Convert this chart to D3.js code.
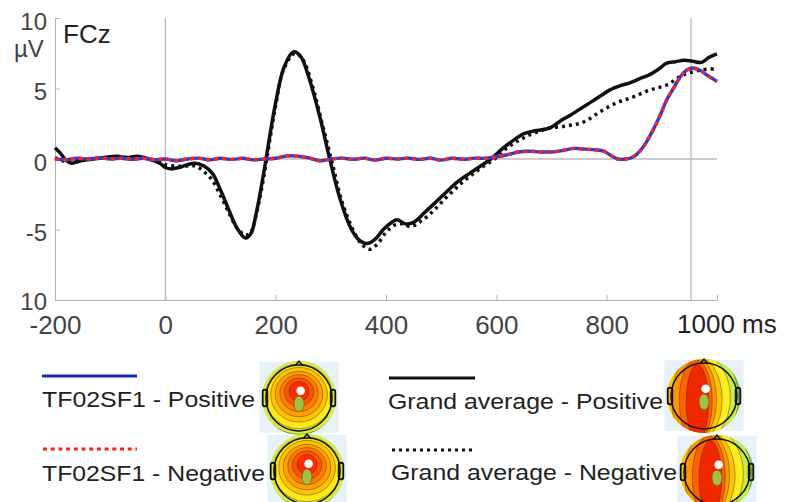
<!DOCTYPE html>
<html>
<head>
<meta charset="utf-8">
<script src="https://cdn.jsdelivr.net/npm/d3@7"></script>
<style>
  body { margin: 0; background: #fff; }
  svg { display: block; font-family: "Liberation Sans", Arial, sans-serif; }
</style>
</head>
<body>
<svg id="chart" width="785" height="502"></svg>
<script>
// ERP at FCz (ms, µV)
var tfTimes = [-200,-180,-160,-140,-120,-100,-80,-60,-40,-20,0,20,40,60,80,100,120,140,160,180,
  200,220,240,260,280,300,320,340,360,380,400,420,440,460,480,500,520,540,560,580,
  600,620,640,660,680,700,720,740,760,780,795,810,820,835,848,861,872,884,897,909,
  921,933,945,955,969,982,1000];
var tfPositive = [0,-0.05,0.05,0,0.08,0,0.05,-0.02,0.05,-0.05,0,-0.12,0,0.06,-0.06,0.05,-0.03,0.05,-0.06,0,
  0.05,0.22,0.2,0.08,-0.12,0,0.06,-0.02,0.06,-0.08,0.05,0,0.06,-0.03,0.05,-0.08,0.05,-0.02,0.06,0.05,
  0.15,0.3,0.5,0.55,0.5,0.5,0.6,0.75,0.7,0.65,0.55,0.2,0,0,0.15,0.6,1.2,2.05,3.1,4.2,
  5.0,5.8,6.3,6.45,6.3,5.95,5.5];
var tfNegative = [0,-0.05,0.05,0,0.08,0,0.05,-0.02,0.05,-0.05,0,-0.12,0,0.06,-0.06,0.05,-0.03,0.05,-0.06,0,
  0.05,0.22,0.2,0.08,-0.12,0,0.06,-0.02,0.06,-0.08,0.05,0,0.06,-0.03,0.05,-0.08,0.05,-0.02,0.06,0.05,
  0.15,0.3,0.5,0.55,0.5,0.5,0.6,0.75,0.7,0.65,0.55,0.2,0,0,0.15,0.6,1.2,2.05,3.1,4.2,
  5.0,5.8,6.3,6.45,6.3,5.95,5.5];

var gaPosTimes = [-200,-190,-180,-170,-160,-150,-130,-110,-90,-70,-50,-30,-10,0,10,25,40,55,70,85,100,
  115,130,145,155,165,180,190,200,215,232,245,260,280,298,315,335,350,365,380,395,410,420,435,450,
  470,500,530,560,590,610,630,650,670,697,720,734,750,770,790,806,825,842,860,879,895,909,925,940,
  954,972,985,1000];
var gaPositive = [0.8,0.4,-0.1,-0.3,-0.2,-0.1,0,0.1,0.2,0.1,0.2,0,-0.3,-0.6,-0.7,-0.6,-0.4,-0.3,-0.5,-1.0,-2.2,
  -3.6,-4.9,-5.6,-5.3,-3.8,-0.6,1.8,4.0,6.5,7.6,7.3,5.8,3.0,0,-2.6,-4.8,-5.7,-6.0,-5.7,-5.0,-4.5,-4.3,-4.6,-4.5,
  -3.8,-2.7,-1.6,-0.8,0,0.7,1.3,1.8,2.0,2.2,2.8,3.1,3.5,4.0,4.5,4.9,5.2,5.4,5.7,6.0,6.4,6.8,6.9,7.0,
  6.95,6.85,7.2,7.45];

var gaNegTimes = [-200,-180,-160,-140,-110,-90,-70,-50,-30,-10,0,20,40,55,70,85,100,115,130,145,
  155,165,180,190,200,215,235,250,265,285,302,320,340,355,370,385,400,415,430,445,
  460,480,510,540,570,600,620,640,660,680,697,728,757,788,819,848,879,909,938,969,1000];
var gaNegative = [0.1,-0.2,-0.2,0,0.1,0.2,0.1,0.15,0,-0.2,-0.4,-0.5,-0.5,-0.5,-0.9,-1.5,-2.6,-3.8,-4.9,-5.4,
  -5.2,-3.9,-0.9,1.5,3.8,6.4,7.5,7.0,5.4,2.4,-0.2,-3.0,-5.0,-6.0,-6.4,-6.0,-5.2,-4.7,-4.6,-4.8,
  -4.5,-3.9,-2.7,-1.6,-0.7,0.1,0.8,1.3,1.7,2.0,2.2,2.35,2.6,3.35,4.0,4.4,4.9,5.25,5.95,6.3,6.4];

var xTicks = [-200, 0, 200, 400, 600, 800];
var yTicks = [-10, -5, 0, 5, 10];
var yTickLabels = ["10", "-5", "0", "5", "10"];
var markTimes = [0, 953];
var legendNames = ["TF02SF1 - Positive", "TF02SF1 - Negative", "Grand average - Positive", "Grand average - Negative"];

var svg = d3.select("#chart");
var x = d3.scaleLinear().domain([-200, 1000]).range([55, 717]);
var y = d3.scaleLinear().domain([-10, 10]).range([300, 18]);
var axisColor = "#b3b3b3";

// axes
var xAxis = svg.append("g").attr("transform", "translate(0,300)")
  .call(d3.axisBottom(x).tickValues(xTicks).tickSize(-5).tickFormat(function(d) { return String(d); }));
xAxis.selectAll("text").attr("y", 34).attr("dy", 0)
  .style("font-size", "26px").attr("fill", "#444");

var yAxis = svg.append("g").attr("transform", "translate(55,0)")
  .call(d3.axisLeft(y).tickValues(yTicks).tickSize(-5).tickFormat(function(d, i) { return yTickLabels[i]; }));
yAxis.selectAll("text").attr("x", -8).attr("dy", function(d) { return d === -10 ? 9 : 11; })
  .style("font-size", "24px").attr("fill", "#444");

[xAxis, yAxis].forEach(function(a) {
  a.select(".domain").attr("stroke", axisColor);
  a.selectAll(".tick line").attr("stroke", axisColor);
});

svg.append("text").attr("x", 14).attr("y", 57).style("font-size", "24px").attr("fill", "#444").text("µV");
svg.append("text").attr("x", 677).attr("y", 333).style("font-size", "26px").attr("fill", "#222").text("1000 ms");
svg.append("text").attr("x", 63).attr("y", 43).style("font-size", "26px").attr("fill", "#222").text("FCz");

// zero line and stimulus markers
svg.append("line").attr("x1", x(-200)).attr("x2", x(1000)).attr("y1", y(0)).attr("y2", y(0))
  .attr("stroke", "#9a9a9a").attr("stroke-width", 1.2);
svg.selectAll(".mark").data(markTimes).enter().append("line")
  .attr("class", "mark")
  .attr("x1", function(d) { return x(d); }).attr("x2", function(d) { return x(d); })
  .attr("y1", y(10)).attr("y2", y(-10))
  .attr("stroke", axisColor).attr("stroke-width", 1.2);

var line = d3.line()
  .x(function(d) { return x(d[0]); })
  .y(function(d) { return y(d[1]); })
  .curve(d3.curveCatmullRom);

var zipSeries = function(times, vals) {
  return times.map(function(t, i) { return [t, vals[i]]; });
};

var series = [
  { pts: zipSeries(gaNegTimes, gaNegative), color: "#111", dash: "3,4", width: 3.5 },
  { pts: zipSeries(gaPosTimes, gaPositive), color: "#111", dash: null, width: 3.5 },
  { pts: zipSeries(tfTimes, tfPositive), color: "#2b3dd6", dash: null, width: 3.4 },
  { pts: zipSeries(tfTimes, tfNegative), color: "#ff2020", dash: "4,4", width: 3.4 }
];

series.forEach(function(s) {
  svg.append("path")
    .datum(s.pts)
    .attr("d", line)
    .attr("fill", "none")
    .attr("stroke", s.color)
    .attr("stroke-width", s.width)
    .attr("stroke-dasharray", s.dash)
    .attr("stroke-linejoin", "round");
});

// legend
var legendItems = [
  { x1: 42, x2: 137, ly: 376, tx: 42, ty: 407, tw: 213, color: "#1a2ab0", dash: null },
  { x1: 43, x2: 137, ly: 449, tx: 42, ty: 481, tw: 223, color: "#ff2020", dash: "4,3.7" },
  { x1: 389, x2: 475, ly: 378, tx: 388, ty: 409, tw: 275, color: "#111", dash: null },
  { x1: 392, x2: 475, ly: 450, tx: 391, ty: 480, tw: 286, color: "#111", dash: "3,4" }
];

legendItems.forEach(function(d, i) {
  svg.append("line").attr("x1", d.x1).attr("x2", d.x2).attr("y1", d.ly).attr("y2", d.ly)
    .attr("stroke", d.color).attr("stroke-width", 3).attr("stroke-dasharray", d.dash);
  svg.append("text").attr("x", d.tx).attr("y", d.ty)
    .attr("textLength", d.tw).attr("lengthAdjust", "spacingAndGlyphs")
    .style("font-size", "22px").attr("fill", "#222").text(legendNames[i]);
});

// scalp maps (decorative)
var tfLayers = [
  { dx: 0, dy: -0.05, rx: 1.2, ry: 1.15, fill: "#d9ee3c" },
  { dx: 0, dy: -0.05, rx: 1.02, ry: 0.98, fill: "#ffe81a" },
  { dx: 0, dy: -0.1, rx: 0.86, ry: 0.83, fill: "#ffc200" },
  { dx: 0, dy: -0.12, rx: 0.72, ry: 0.69, fill: "#ffa000" },
  { dx: 0, dy: -0.15, rx: 0.58, ry: 0.56, fill: "#ff7c00" },
  { dx: 0, dy: -0.18, rx: 0.45, ry: 0.43, fill: "#ff5300" },
  { dx: 0, dy: -0.2, rx: 0.3, ry: 0.3, fill: "#ff2c00" }
];
var gaLayers = [
  { dx: -0.2, dy: 0.05, rx: 1.25, ry: 1.5, fill: "#c6ec42" },
  { dx: -0.25, dy: 0.05, rx: 1.05, ry: 1.4, fill: "#ffec22" },
  { dx: -0.3, dy: 0.1, rx: 0.85, ry: 1.35, fill: "#ffc400" },
  { dx: -0.3, dy: 0.1, rx: 0.68, ry: 1.3, fill: "#ff9600" },
  { dx: -0.25, dy: 0.15, rx: 0.5, ry: 1.25, fill: "#ff6000" },
  { dx: -0.2, dy: 0.2, rx: 0.34, ry: 1.15, fill: "#f02800" }
];
var maps = [
  { cx: 299, cy: 398, r: 33, layers: tfLayers },
  { cx: 307, cy: 471, r: 33, layers: tfLayers },
  { cx: 704, cy: 396, r: 33, layers: gaLayers },
  { cx: 717, cy: 472, r: 33, layers: gaLayers }
];

var defs = svg.append("defs");
maps.forEach(function(m, i) {
  var g = svg.append("g").attr("transform", "translate(" + m.cx + "," + m.cy + ")");
  var r = m.r;
  defs.append("clipPath").attr("id", "clip" + i)
    .append("circle").attr("r", r * 1.12);
  g.append("rect").attr("x", -r * 1.2).attr("y", -r * 1.1).attr("width", r * 2.4).attr("height", r * 2.15)
    .attr("fill", "#e8f0f8");
  var inner = g.append("g").attr("clip-path", "url(#clip" + i + ")");
  inner.append("rect").attr("x", -r * 1.3).attr("y", -r * 1.3).attr("width", r * 2.6).attr("height", r * 2.6)
    .attr("fill", "#6cd87a");
  inner.selectAll("ellipse").data(m.layers).enter().append("ellipse")
    .attr("cx", function(d) { return d.dx * r; })
    .attr("cy", function(d) { return d.dy * r; })
    .attr("rx", function(d) { return d.rx * r; })
    .attr("ry", function(d) { return d.ry * r; })
    .attr("fill", function(d) { return d.fill; })
    .attr("stroke", "#3a2a10").attr("stroke-width", 0.6).attr("stroke-opacity", 0.7);
  // green spot and electrode marker
  g.append("ellipse").attr("cx", 0).attr("cy", r * 0.18).attr("rx", r * 0.15).attr("ry", r * 0.24)
    .attr("fill", "#a5bf3c").attr("stroke", "#555").attr("stroke-width", 0.5);
  g.append("circle").attr("cx", r * 0.05).attr("cy", -r * 0.22).attr("r", r * 0.13).attr("fill", "#fff");
  // head outline, nose, ears
  g.append("path").attr("d", "M" + (-r * 0.12) + "," + (-r * 0.98) + "L0," + (-r * 1.12) + "L" + (r * 0.12) + "," + (-r * 0.98))
    .attr("fill", "none").attr("stroke", "#111").attr("stroke-width", 1.5);
  [-1, 1].forEach(function(s) {
    g.append("rect").attr("x", s < 0 ? -r * 1.1 : r * 0.96).attr("y", -r * 0.25)
      .attr("width", r * 0.14).attr("height", r * 0.5).attr("rx", 2)
      .attr("fill", "none").attr("stroke", "#111").attr("stroke-width", 1.8);
  });
  g.append("circle").attr("r", r).attr("fill", "none").attr("stroke", "#111").attr("stroke-width", 1.5);
});
</script>
</body>
</html>
